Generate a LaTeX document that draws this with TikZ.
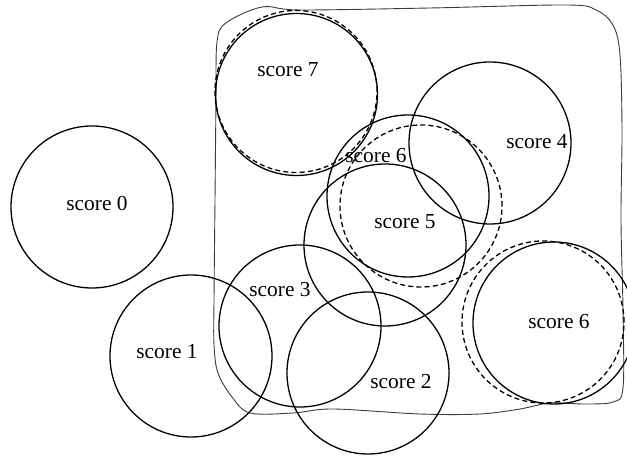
\documentclass[tikz,border=0pt]{standalone}
\usepackage{fontspec}
\setmainfont{Liberation Serif}
\usepackage{tikz}
\usetikzlibrary{shapes.geometric, positioning}
\definecolor{ScoreInk}{RGB}{0, 0, 0}
\definecolor{ScoreFrame}{RGB}{60, 60, 60}

\tikzset{
  ring/.style={circle, draw=ScoreInk, line width=0.65pt, minimum size=81pt, inner sep=0pt},
  ghost/.style={ring, dash pattern=on 2.5pt off 1.6pt},
  scorelbl/.style={inner sep=0pt, font=\fontsize{10.7}{12}\selectfont, text=ScoreInk},
  frame/.style={draw=ScoreFrame, line width=0.45pt}
}

\begin{document}
\begin{tikzpicture}[x=0.5pt,y=-0.5pt]
  \path[use as bounding box] (0,0) rectangle (627,458);
  \draw[frame] plot[smooth cycle, tension=0.55] coordinates {
    (214,300) (215,200) (216,100) (217,42) (226,23) (262,7) (300,10)
    (430,8) (567,5) (596,10) (613,25) (620,55) (622,130) (621,220)
    (623,310) (623,388) (613,402) (585,404) (550,403) (520,409)
    (480,414) (420,414) (333,409) (293,413) (250,413) (232,397)
    (218,373) (214,345)
  };
  \foreach \n/\x/\y in {0/92/207, 1/191/356, 2/368/373, 3/300/326,
                        4/490/143, 5/385/245, 6a/408/196, 6b/554/323, 7/296.5/94.5}{
    \node[ring] (c\n) at (\x,\y) {};
  }
  \foreach \n/\x/\y in {6a/421/206, 6b/543/322, 7/296/91.5}{
    \node[ghost] (d\n) at (\x,\y) {};
  }
  \node[scorelbl] (t0) at (97,203) {score 0};
  \node[scorelbl] (t1) at (167,352) {score 1};
  \node[scorelbl] (t2) at (401,382) {score 2};
  \node[scorelbl] (t3) at (280,290) {score 3};
  \node[scorelbl] (t4) at (537,142) {score 4};
  \node[scorelbl] (t5) at (405,222) {score 5};
  \node[scorelbl] (t6a) at (376,156) {score 6};
  \node[scorelbl] (t6b) at (559,322) {score 6};
  \node[scorelbl] (t7) at (288,70) {score 7};
\end{tikzpicture}
\end{document}
